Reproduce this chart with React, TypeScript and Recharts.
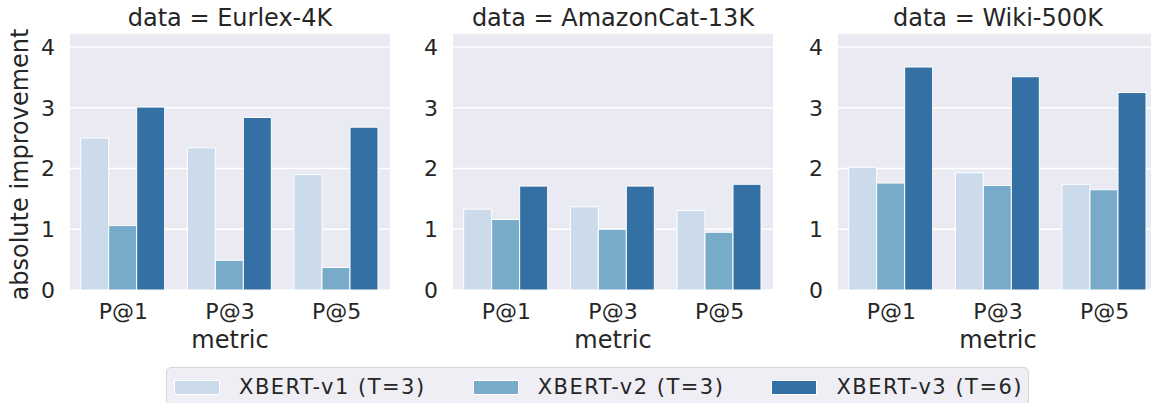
import { BarChart, Bar, XAxis, YAxis, CartesianGrid } from "recharts"

const metrics = ["P@1", "P@3", "P@5"]
const datasets = ["Eurlex-4K", "AmazonCat-13K", "Wiki-500K"]
const seriesNames = ["XBERT-v1 (T=3)", "XBERT-v2 (T=3)", "XBERT-v3 (T=6)"]
const seriesColors = ["#cbdbeb", "#78abc9", "#3470a3"]
const yTicks = [0, 1, 2, 3, 4]

// one list per dataset and model, ordered like metrics
const eurlexV1 = [2.5, 2.34, 1.9]
const eurlexV2 = [1.06, 0.49, 0.37]
const eurlexV3 = [3.01, 2.84, 2.68]
const amazonV1 = [1.33, 1.37, 1.31]
const amazonV2 = [1.16, 1.0, 0.95]
const amazonV3 = [1.71, 1.71, 1.74]
const wikiV1 = [2.02, 1.93, 1.74]
const wikiV2 = [1.76, 1.72, 1.65]
const wikiV3 = [3.67, 3.51, 3.25]

const panelValues = [
  [eurlexV1, eurlexV2, eurlexV3],
  [amazonV1, amazonV2, amazonV3],
  [wikiV1, wikiV2, wikiV3],
]

const TEXT = "#262626"
const plotLefts = [70, 453, 838]
const AXIS_W = 70
const PLOT_W = 320

function rowsFor(values: number[][]) {
  return metrics.map((m, i) => {
    const row: any = { metric: m }
    seriesNames.forEach((s, k) => {
      row[s] = values[k][i]
    })
    return row
  })
}

function YLabel(props: any) {
  const vb = props.viewBox
  const cx = vb.x + 28
  const cy = vb.y + vb.height / 2 + 3
  return (
    <text x={cx} y={cy} transform={`rotate(-90 ${cx} ${cy})`} textAnchor="middle" fill={TEXT} fontSize={24}>
      absolute improvement
    </text>
  )
}

function Panel({ index }: { index: number }) {
  const rows = rowsFor(panelValues[index])
  return (
    <div style={{ position: "absolute", left: plotLefts[index] - AXIS_W, top: 0 }}>
      <BarChart
        width={AXIS_W + PLOT_W}
        height={355}
        data={rows}
        margin={{ top: 33, right: 0, bottom: 0, left: 0 }}
        barCategoryGap="10%"
        barGap={0}
      >
        <CartesianGrid vertical={false} stroke="#ffffff" strokeWidth={1.5} fill="#eaeaf2" fillOpacity={1} />
        <XAxis
          dataKey="metric"
          height={65}
          tickSize={0}
          tickMargin={13}
          axisLine={false}
          tick={{ fill: TEXT, fontSize: 22 }}
          label={{ value: "metric", position: "insideBottom", offset: 7, fill: TEXT, fontSize: 24 }}
        />
        <YAxis
          width={AXIS_W}
          domain={[0, 4.23]}
          ticks={yTicks}
          tickSize={0}
          tickMargin={15}
          axisLine={false}
          tick={{ fill: TEXT, fontSize: 22 }}
          label={index === 0 ? <YLabel /> : undefined}
        />
        {seriesNames.map((s, k) => (
          <Bar key={s} dataKey={s} fill={seriesColors[k]} stroke="#ffffff" strokeWidth={1} isAnimationActive={false} />
        ))}
      </BarChart>
      <div
        style={{
          position: "absolute",
          left: AXIS_W,
          top: 6,
          width: PLOT_W,
          textAlign: "center",
          fontSize: 24,
          lineHeight: "24px",
          color: TEXT,
          whiteSpace: "nowrap",
        }}
      >
        data = {datasets[index]}
      </div>
    </div>
  )
}

export default function App() {
  return (
    <div
      style={{
        position: "absolute",
        left: 0,
        top: 0,
        width: 1151,
        height: 403,
        overflow: "hidden",
        background: "#ffffff",
        fontFamily: "'DejaVu Sans', sans-serif",
      }}
    >
      {datasets.map((d, i) => (
        <Panel key={d} index={i} />
      ))}
      <div
        style={{
          position: "absolute",
          left: 166,
          top: 367,
          width: 863,
          height: 50,
          boxSizing: "border-box",
          border: "1px solid #d6d6d6",
          borderRadius: 5,
          background: "#eeeef4",
          display: "flex",
          alignItems: "flex-start",
          paddingLeft: 7,
          paddingTop: 9,
        }}
      >
        {seriesNames.map((s, k) => (
          <div key={s} style={{ display: "flex", alignItems: "center", marginRight: 47 }}>
            <div style={{ width: 46, height: 15, background: seriesColors[k], boxSizing: "border-box", border: "1px solid #ffffff" }} />
            <span
              style={{
                marginLeft: 19,
                fontSize: 21,
                lineHeight: "21px",
                letterSpacing: 1.5,
                color: TEXT,
                whiteSpace: "nowrap",
              }}
            >
              {s}
            </span>
          </div>
        ))}
      </div>
    </div>
  )
}
